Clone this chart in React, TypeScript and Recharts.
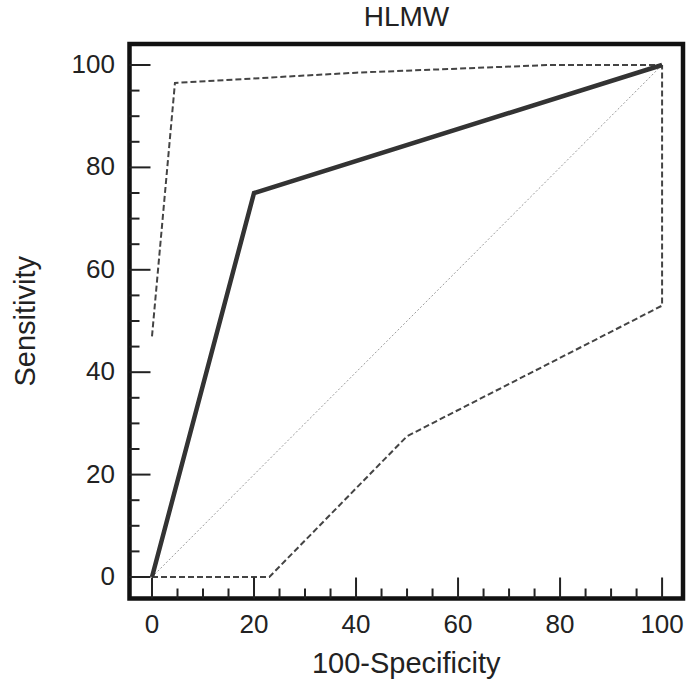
import { LineChart, Line, XAxis, YAxis, ReferenceArea } from 'recharts';

// ROC curve (HLMW)
const rocX = [0, 20, 100];
const rocY = [0, 75, 100];

// 95% confidence band
const upperX = [0, 4.5, 40, 78, 100];
const upperY = [47, 96.5, 98.5, 100, 100];
const lowerX = [0, 23, 50, 100, 100];
const lowerY = [0, 0, 27.5, 53, 100];

// reference diagonal
const diagX = [0, 100];
const diagY = [0, 100];

const axisTicks = [0, 5, 10, 15, 20, 25, 30, 35, 40, 45, 50, 55, 60, 65, 70, 75, 80, 85, 90, 95, 100];

const toPoints = (xs: number[], ys: number[]) => xs.map((x, i) => ({ x, y: ys[i] }));

const rocData = toPoints(rocX, rocY);
const upperData = toPoints(upperX, upperY);
const lowerData = toPoints(lowerX, lowerY);
const diagData = toPoints(diagX, diagY);

const FONT = '"Liberation Sans", Arial, Helvetica, sans-serif';
const INK = '#222';

const XTick = (props: any) => {
    const { x, y, payload } = props;
    const v = payload.value;
    const major = v % 20 === 0;
    return (
        <g>
            <line x1={x} y1={y} x2={x} y2={y - (major ? 21 : 10)} stroke={INK} strokeWidth={2} />
            {major && (
                <text x={x} y={y + 34.5} textAnchor='middle' fontSize={26} fontFamily={FONT} fill={INK}>
                    {v}
                </text>
            )}
        </g>
    );
};

const YTick = (props: any) => {
    const { x, y, payload } = props;
    const v = payload.value;
    const major = v % 20 === 0;
    return (
        <g>
            <line x1={x} y1={y} x2={x + (major ? 21 : 10)} y2={y} stroke={INK} strokeWidth={2} />
            {major && (
                <text x={x - 14.5} y={y + 8} textAnchor='end' fontSize={26} fontFamily={FONT} fill={INK}>
                    {v}
                </text>
            )}
        </g>
    );
};

export default function App() {
    const xDomain = [-4.41, 104.1];
    const yDomain = [-4.2, 104.1];
    return (
        <div style={{ position: 'absolute', left: 0, top: 0, width: 686, height: 683, background: '#fff' }}>
            <div
                style={{
                    position: 'absolute',
                    left: 306.5,
                    top: 1.4,
                    width: 200,
                    textAlign: 'center',
                    fontSize: 28,
                    lineHeight: '32px',
                    fontFamily: FONT,
                    color: INK,
                }}
            >
                HLMW
            </div>
            <LineChart width={686} height={683} margin={{ top: 44, right: 3, bottom: 0, left: 0 }}>
                <XAxis
                    type='number'
                    dataKey='x'
                    domain={xDomain}
                    allowDataOverflow
                    ticks={axisTicks}
                    interval={0}
                    height={84.5}
                    tickSize={0}
                    tickMargin={0}
                    tickLine={false}
                    axisLine={false}
                    tick={(p: any) => <XTick {...p} />}
                    label={{
                        value: '100-Specificity',
                        position: 'insideBottom',
                        offset: 10,
                        style: { fontSize: 29, fontFamily: FONT, fill: INK },
                    }}
                />
                <YAxis
                    type='number'
                    domain={yDomain}
                    allowDataOverflow
                    ticks={axisTicks}
                    interval={0}
                    width={129.5}
                    tickSize={0}
                    tickMargin={0}
                    tickLine={false}
                    axisLine={false}
                    tick={(p: any) => <YTick {...p} />}
                    label={{
                        value: 'Sensitivity',
                        angle: -90,
                        position: 'insideLeft',
                        offset: 25,
                        style: { fontSize: 29, fontFamily: FONT, fill: INK, textAnchor: 'middle' },
                    }}
                />
                <ReferenceArea
                    x1={xDomain[0]}
                    x2={xDomain[1]}
                    y1={yDomain[0]}
                    y2={yDomain[1]}
                    ifOverflow='visible'
                    fill='none'
                    fillOpacity={0}
                    stroke='#111'
                    strokeWidth={4.5}
                />
                <Line
                    data={diagData}
                    dataKey='y'
                    type='linear'
                    stroke='#9a9a9a'
                    strokeWidth={1}
                    strokeDasharray='2 2'
                    dot={false}
                    isAnimationActive={false}
                />
                <Line
                    data={upperData}
                    dataKey='y'
                    type='linear'
                    stroke='#444'
                    strokeWidth={2}
                    strokeDasharray='6 3'
                    dot={false}
                    isAnimationActive={false}
                />
                <Line
                    data={lowerData}
                    dataKey='y'
                    type='linear'
                    stroke='#444'
                    strokeWidth={2}
                    strokeDasharray='6 3'
                    dot={false}
                    isAnimationActive={false}
                />
                <Line
                    data={rocData}
                    dataKey='y'
                    type='linear'
                    stroke='#333'
                    strokeWidth={4.5}
                    dot={false}
                    isAnimationActive={false}
                />
            </LineChart>
        </div>
    );
}
